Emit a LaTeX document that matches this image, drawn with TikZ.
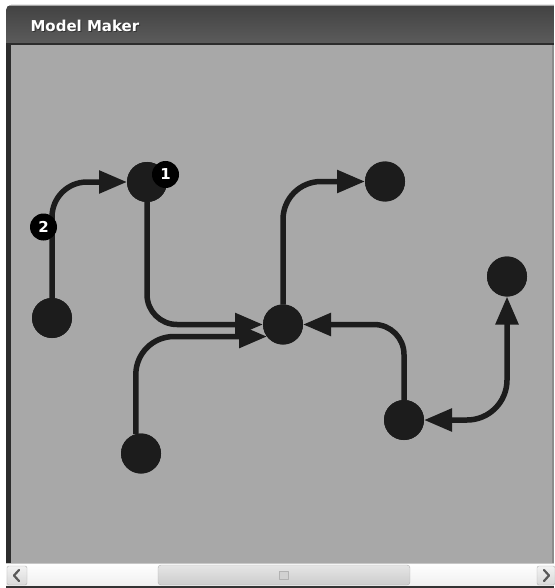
\documentclass[tikz,border=0pt]{standalone}
\usepackage{fontspec}
\setsansfont{DejaVu Sans}
\usetikzlibrary{arrows.meta, calc}
\definecolor{panel}{HTML}{A8A8A8}
\definecolor{dotfill}{HTML}{1C1C1C}
\definecolor{titletop}{HTML}{424242}
\definecolor{titlebot}{HTML}{5C5C5C}
\definecolor{frameedge}{HTML}{2C2C2C}

\begin{document}
\begin{tikzpicture}[x=1pt, y=-1pt, >={Triangle[length=28pt,width=22pt]},
	line join=round, font=\sffamily,
	dot/.style={circle, fill=dotfill, inner sep=0pt, outer sep=0pt, minimum size=40pt},
	badge/.style={circle, fill=black, text=white, inner sep=0pt, outer sep=0pt,
		minimum size=27pt, font=\sffamily\bfseries\fontsize{15}{15}\selectfont},
	link/.style={->, line width=5.5pt, draw=dotfill, rounded corners=35pt}]

\useasboundingbox (0,0) rectangle (554,588);

% ===== Window frame =====
\shade[top color=titletop, bottom color=titlebot]
	(6,44) -- (6,10) arc[start angle=180, end angle=270, radius=5] -- (554,5) -- (554,44) -- cycle;
\draw[black!35, line width=1pt] (10,5.5) -- (554,5.5);
\draw[frameedge, line width=1.5pt] (6,44) -- (554,44);
\fill[panel] (6,45) rectangle (554,563);
\fill[frameedge] (6,45) rectangle (11,563);
\fill[black!45] (552,45) rectangle (554,563);
\node[anchor=west, text=black!80, font=\sffamily\bfseries\fontsize{15}{15}\selectfont]
	(shadow) at (28,27) {Model Maker};
\node[anchor=west, text=white, font=\sffamily\bfseries\fontsize{15}{15}\selectfont]
	(title) at (27,26) {Model Maker};

% ===== Scroll bar =====
\shade[top color=white, bottom color=black!6] (6,563) rectangle (554,586);
\draw[black!22, line width=0.8pt] (6,563) -- (554,563);
\fill[black!80] (6,586) rectangle (554,588);
\shade[top color=black!10, bottom color=black!20, draw=black!30, rounded corners=3pt]
	(158,565) rectangle (410,585);
\filldraw[fill=black!18, draw=black!30] (279,571) rectangle (288,579);
\shade[top color=black!5, bottom color=black!15, draw=black!30, rounded corners=2pt]
	(7,566) rectangle (27,585);
\draw[black!65, line width=2.2pt, line cap=round] (19,570) -- (14,575.5) -- (19,581);
\shade[top color=black!5, bottom color=black!15, draw=black!30, rounded corners=2pt]
	(537,566) rectangle (555,585);
\draw[black!65, line width=2.2pt, line cap=round] (544,570) -- (549,575.5) -- (544,581);

% ===== Model nodes =====
\node[dot] (src) at (147,182) {};
\node[dot] (left) at (52,318) {};
\node[dot] (hub) at (283,324.5) {};
\node[dot] (top) at (385,181.5) {};
\node[dot] (right) at (507,276.5) {};
\node[dot] (low) at (404,420) {};
\node[dot] (bottom) at (141,453.5) {};

% ===== Links =====
\draw[link] (left.north) |- (src.west);
\draw[link, rounded corners=30pt] (src.south) |- (hub.west);
\draw[link, rounded corners=38pt] (bottom.105) |- (hub.217);
\draw[link, rounded corners=38pt] (hub.north) |- (top.west);
\draw[link, rounded corners=30pt] (low.north) |- (hub.east);
\draw[link, <->, rounded corners=40pt] (right.south) |- (low.east);

% redraw nodes over the line ends
\foreach \n in {src, left, hub, top, right, low, bottom}
	\fill[dotfill] (\n) circle (20pt);

% ===== Badges =====
\node[badge] (one) at ([shift={(18.5,-7.5)}]src) {1};
\node[badge] (two) at (43.5,227) {2};

\end{tikzpicture}
\end{document}
